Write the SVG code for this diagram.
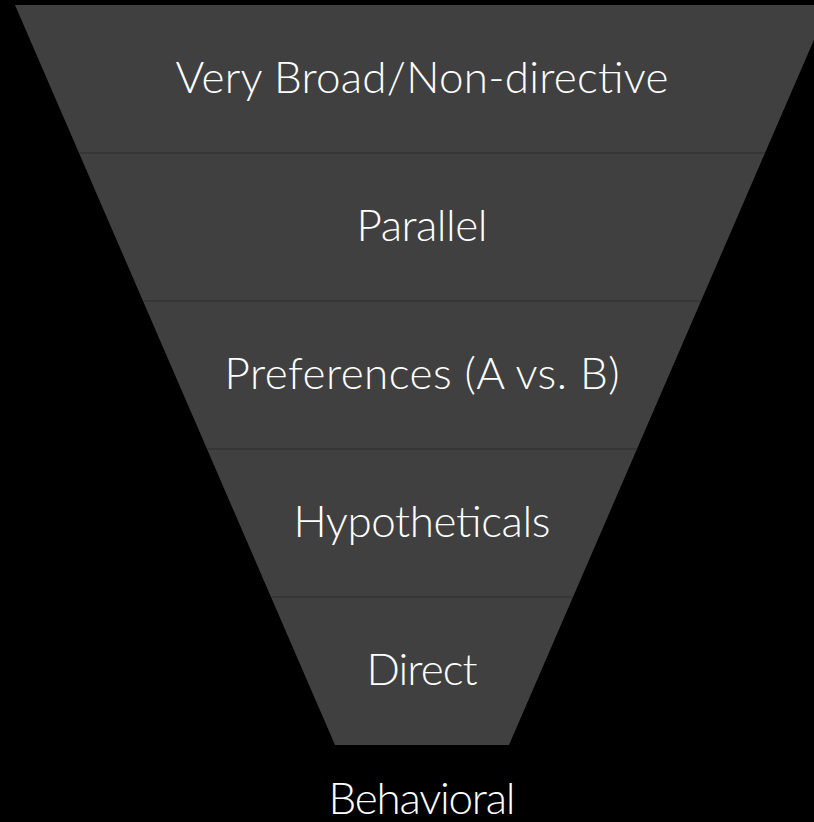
<svg xmlns="http://www.w3.org/2000/svg" width="814" height="822" viewBox="0 0 814 822">
<style>
.band{fill:#404040;}
.sep{stroke:#333333;stroke-width:1.5;}
.lbl{fill:#ffffff;font-family:Lato,"Noto Sans","Liberation Sans",sans-serif;font-weight:300;font-size:44px;text-anchor:middle;}
</style>
<rect x="0" y="0" width="814" height="822" fill="#000000"/>
<g id="band1"><polygon class="band" points="15,5 829,5 765,153 79,153"/><text class="lbl" x="422" y="93" textLength="493">Very Broad/Non-directive</text></g>
<g id="band2"><polygon class="band" points="79,153 765,153 701,301 143,301"/><text class="lbl" x="422" y="241" textLength="131">Parallel</text></g>
<g id="band3"><polygon class="band" points="143,301 701,301 637,449 207,449"/><text class="lbl" x="422" y="389" textLength="395">Preferences (A vs. B)</text></g>
<g id="band4"><polygon class="band" points="207,449 637,449 573,597 271,597"/><text class="lbl" x="422" y="537" textLength="257">Hypotheticals</text></g>
<g id="band5"><polygon class="band" points="271,597 573,597 509,745 335,745"/><text class="lbl" x="422" y="685" textLength="111">Direct</text></g>
<g id="behavioral"><text class="lbl" x="422" y="814" textLength="187">Behavioral</text></g>
<g id="connectors">
<line class="sep" x1="79" y1="153" x2="765" y2="153"/>
<line class="sep" x1="143" y1="301" x2="701" y2="301"/>
<line class="sep" x1="207" y1="449" x2="637" y2="449"/>
<line class="sep" x1="271" y1="597" x2="573" y2="597"/>
</g>
</svg>
